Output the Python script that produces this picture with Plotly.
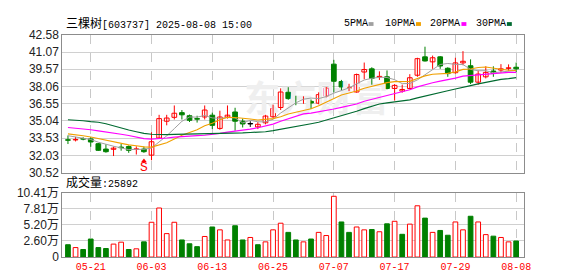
import plotly.graph_objects as go

# ---------------- data ----------------
stock_name = "三棵树"
stock_code = "603737"
timestamp = "2025-08-08 15:00"
last_volume = 25892

dates = ["05-16","05-19","05-20","05-21","05-22","05-23","05-26","05-27","05-28","05-29",
         "05-30","06-03","06-04","06-05","06-06","06-09","06-10","06-11","06-12","06-13",
         "06-16","06-17","06-18","06-19","06-20","06-23","06-24","06-25","06-26","06-27",
         "06-30","07-01","07-02","07-03","07-04","07-07","07-08","07-09","07-10","07-11",
         "07-14","07-15","07-16","07-17","07-18","07-21","07-22","07-23","07-24","07-25",
         "07-28","07-29","07-30","07-31","08-01","08-04","08-05","08-06","08-07","08-08"]

opens = [33.40,33.38,33.50,33.47,33.05,32.58,32.56,32.75,32.80,32.55,
         32.58,32.05,33.55,35.02,35.36,35.77,35.50,35.25,35.39,35.55,
         34.39,35.38,35.83,35.02,34.78,34.52,34.88,35.41,36.22,37.56,
         37.06,36.92,36.76,36.60,37.22,40.02,38.50,37.92,37.58,39.33,
         39.61,38.90,38.91,37.89,37.66,37.89,39.05,40.66,40.22,40.66,
         39.66,39.27,40.13,39.88,38.44,38.91,39.42,39.50,39.65,39.75]
highs = [33.77,33.65,33.62,33.64,33.12,33.00,32.80,33.02,32.90,32.82,
         32.80,34.05,35.58,35.58,36.40,36.00,35.60,35.50,36.40,35.77,
         35.94,36.40,36.20,35.25,35.02,34.94,35.58,36.47,37.90,38.00,
         37.25,37.20,36.92,37.55,38.02,40.40,38.64,38.30,39.19,40.16,
         39.75,39.39,39.47,38.27,38.22,39.14,40.58,41.55,40.77,40.72,
         39.75,40.58,41.16,40.44,39.47,39.83,39.83,40.02,40.00,40.16]
lows = [33.02,33.25,33.35,32.78,32.43,32.26,31.97,32.44,32.25,32.10,
        32.25,31.60,33.50,34.66,35.17,35.17,34.95,34.90,35.17,34.33,
        34.27,35.25,34.19,34.47,34.52,34.33,34.75,35.30,36.00,36.90,
        36.42,36.55,36.08,36.50,37.11,37.55,37.75,37.66,37.52,38.69,
        38.22,38.64,37.81,36.83,37.52,37.80,38.91,40.25,39.61,39.61,
        38.91,39.19,39.92,38.27,38.22,38.77,38.91,39.27,39.44,39.33]
closes = [33.35,33.42,33.45,33.20,32.47,32.35,32.66,32.70,32.47,32.60,
          32.35,33.22,35.25,35.30,35.72,35.58,35.10,35.20,36.00,34.66,
          35.39,35.55,35.02,34.78,34.78,34.75,35.47,36.14,37.58,37.00,
          36.99,37.03,36.62,37.35,37.92,38.52,38.02,37.96,39.11,39.55,
          38.77,38.95,37.89,38.16,37.80,38.83,40.50,40.30,40.58,39.86,
          39.19,40.13,40.27,38.44,39.15,39.30,39.22,39.61,39.70,39.61]

# volume in 万
volumes = [1.99,1.53,1.22,2.91,1.53,1.38,2.09,2.40,1.22,1.33,
           2.45,5.61,7.91,3.78,5.61,2.76,2.14,1.68,3.32,4.85,
           4.39,2.76,5.05,2.76,3.16,1.99,2.45,4.39,5.46,3.98,
           2.76,2.45,2.91,3.98,3.47,9.80,5.66,3.98,4.85,4.39,
           4.44,4.08,5.36,5.77,3.67,5.31,8.27,6.28,3.98,4.29,
           3.52,5.66,4.39,6.58,5.66,3.62,3.37,3.16,2.45,2.59]
# 1 = up day (red), 0 = down day (green)
vol_up = [0,1,0,0,0,0,1,1,0,1,
          0,1,1,1,1,0,0,0,1,0,
          1,1,0,0,1,0,1,1,1,0,
          0,1,0,1,1,1,0,0,1,1,
          0,1,0,1,0,1,1,0,1,0,
          0,1,1,0,1,1,0,1,1,0]

ma5 = [33.75,33.65,33.55,33.42,33.18,32.98,32.83,32.68,32.53,32.55,
       32.56,32.67,33.18,33.74,34.37,35.01,35.39,35.38,35.52,35.31,
       35.27,35.35,35.31,34.87,35.10,34.97,34.96,35.19,35.74,36.18,
       36.63,36.95,37.05,37.00,37.18,37.48,37.68,37.94,38.30,38.63,
       38.78,38.87,38.85,38.66,38.31,38.33,38.64,39.10,39.60,39.99,
       40.08,40.00,39.99,39.56,39.44,39.45,39.27,39.34,39.39,39.47]
ma10 = [33.91,33.85,33.75,33.64,33.50,33.35,33.18,33.05,32.95,32.87,
        32.77,32.75,32.93,33.14,33.46,33.79,34.03,34.28,34.63,34.84,
        35.14,35.37,35.35,35.30,35.21,35.13,35.16,35.25,35.41,35.65,
        35.81,35.96,36.12,36.37,36.69,37.07,37.32,37.50,37.66,37.91,
        38.09,38.28,38.40,38.49,38.48,38.51,38.76,38.99,39.14,39.17,
        39.21,39.33,39.56,39.59,39.73,39.77,39.64,39.57,39.48,39.46]
ma20 = [34.47,34.42,34.35,34.27,34.18,34.10,34.00,33.88,33.77,33.62,
        33.50,33.45,33.48,33.55,33.62,33.68,33.72,33.75,33.79,33.85,
        33.95,34.06,34.14,34.22,34.33,34.45,34.59,34.77,35.02,35.24,
        35.47,35.66,35.73,35.83,35.94,36.09,36.24,36.37,36.53,36.77,
        36.94,37.11,37.26,37.42,37.57,37.78,38.03,38.24,38.39,38.53,
        38.64,38.79,38.97,39.03,39.09,39.13,39.19,39.27,39.30,39.30]
ma30 = [35.15,35.12,35.06,34.98,34.93,34.80,34.60,34.45,34.25,34.10,
        33.95,33.88,33.84,33.84,33.86,33.87,33.89,33.90,33.91,33.92,
        33.93,33.96,33.98,34.00,34.03,34.05,34.10,34.19,34.30,34.45,
        34.57,34.69,34.80,34.93,35.11,35.32,35.50,35.67,35.89,36.12,
        36.34,36.53,36.62,36.71,36.78,36.89,37.07,37.24,37.39,37.56,
        37.69,37.84,38.02,38.14,38.29,38.44,38.56,38.68,38.75,38.84]

tick_dates = ["05-21","06-03","06-13","06-25","07-07","07-17","07-29","08-08"]
price_ticks = [30.52,32.03,33.53,35.04,36.55,38.06,39.57,41.07,42.58]
vol_ticks = [0,2.60,5.20,7.81,10.41]
vol_tick_text = ["0","2.60万","5.20万","7.81万","10.41万"]
signal_dates = ["05-30"]
signal_text = ["S"]
ma_names = ["5PMA","10PMA","20PMA","30PMA"]
watermark = "东方财富"

# ---------------- style ----------------
W, H = 578, 276
RED = "#ff0000"
GREEN = "#008000"
MA_COLORS = ["#a0a0a0", "#f0a000", "#ff00ff", "#006a30"]
MA_WIDTHS = [1, 1.1, 1.2, 1.2]
MONO = "Liberation Mono, Noto Sans CJK SC"
SANS = "Liberation Sans, Noto Sans CJK SC"

def py(p):
    return 1 - p / H

n = len(dates)
idx = list(range(1, n + 1))
tickvals = [dates.index(d) + 1 for d in tick_dates]
xdom = [55 / W, 522 / W]
xrange_ = [0.26, 60.99]

fig = go.Figure()

# watermark (under everything)
fig.add_trace(go.Scatter(x=[33.7], y=[36.6], mode="text", text=[watermark],
                         textfont=dict(size=36, color="#efefef", family="Noto Sans CJK SC", weight="bold"),
                         hoverinfo="skip", showlegend=False, xaxis="x", yaxis="y"))

# candles
groups = [
    ([i for i in range(n) if closes[i] > opens[i]], RED, "white"),
    ([i for i in range(n) if closes[i] < opens[i]], GREEN, GREEN),
    ([i for i in range(n) if closes[i] == opens[i]], "black", "black"),
]
for sel, col, fill in groups:
    if not sel:
        continue
    wx, wy = [], []
    for i in sel:
        wx += [idx[i], idx[i], None]
        wy += [lows[i], highs[i], None]
    fig.add_trace(go.Scatter(x=wx, y=wy, mode="lines", line=dict(color=col, width=1),
                             hoverinfo="skip", showlegend=False, xaxis="x", yaxis="y"))
    fig.add_trace(go.Bar(x=[idx[i] for i in sel],
                         base=[min(opens[i], closes[i]) for i in sel],
                         y=[max(abs(closes[i] - opens[i]), 0.04) for i in sel],
                         width=0.62, marker=dict(color=fill, line=dict(color=col, width=1)),
                         hoverinfo="skip", showlegend=False, xaxis="x", yaxis="y"))

# moving averages
for ser, col, w in zip([ma5, ma10, ma20, ma30], MA_COLORS, MA_WIDTHS):
    fig.add_trace(go.Scatter(x=idx, y=ser, mode="lines", line=dict(color=col, width=w),
                             hoverinfo="skip", showlegend=False, xaxis="x", yaxis="y"))

# signal marker
for d, t in zip(signal_dates, signal_text):
    k = dates.index(d)
    fig.add_trace(go.Scatter(x=[idx[k]], y=[lows[k] - 0.72], mode="markers",
                             marker=dict(symbol="triangle-up", size=5, color=RED),
                             hoverinfo="skip", showlegend=False, xaxis="x", yaxis="y"))
    fig.add_trace(go.Scatter(x=[idx[k]], y=[lows[k] - 1.28], mode="text", text=[t],
                             textfont=dict(size=13, color=RED, family=MONO),
                             hoverinfo="skip", showlegend=False, xaxis="x", yaxis="y"))

# volume
for flag, col, fill in [(1, RED, "white"), (0, GREEN, GREEN)]:
    sel = [i for i in range(n) if vol_up[i] == flag]
    fig.add_trace(go.Bar(x=[idx[i] for i in sel], y=[volumes[i] for i in sel], width=0.62,
                         marker=dict(color=fill, line=dict(color=col, width=1)),
                         hoverinfo="skip", showlegend=False, xaxis="x2", yaxis="y2"))

axis_common = dict(showline=True, linecolor="#8c8c8c", linewidth=1, mirror=True,
                   zeroline=False, ticks="", fixedrange=True)

fig.update_layout(
    width=W, height=H, margin=dict(l=0, r=0, t=0, b=0),
    paper_bgcolor="white", plot_bgcolor="white", barmode="overlay", showlegend=False,
    xaxis=dict(domain=xdom, range=xrange_, tickvals=tickvals, ticktext=tick_dates,
               showticklabels=False, showgrid=True, gridcolor="#c8c8c8", griddash="dash",
               anchor="y", **axis_common),
    yaxis=dict(domain=[py(166), py(21)], range=[price_ticks[0], price_ticks[-1]],
               tickvals=price_ticks, ticktext=[f"{v:.2f}" for v in price_ticks],
               showgrid=True, gridcolor="#d0d0d0",
               tickfont=dict(family=SANS, size=12, color="#222"), anchor="x", **axis_common),
    xaxis2=dict(domain=xdom, range=xrange_, tickvals=tickvals, ticktext=tick_dates,
                showgrid=True, gridcolor="#c8c8c8", griddash="dash",
                tickfont=dict(family=MONO, size=10, color=RED), anchor="y2", **axis_common),
    yaxis2=dict(domain=[py(255), py(187)], range=[vol_ticks[0], vol_ticks[-1]],
                tickvals=vol_ticks, ticktext=vol_tick_text, showgrid=True, gridcolor="#d0d0d0",
                tickfont=dict(family=SANS, size=12, color="#222"), anchor="x2", **axis_common),
)

# title
fig.add_annotation(x=57 / W, y=py(9), xref="paper", yref="paper", xanchor="left", yanchor="middle",
                   showarrow=False,
                   text=f"<span style='font-size:12px'>{stock_name}</span>[{stock_code}] {timestamp}",
                   font=dict(family=MONO, size=10, color="black"))
# volume label
fig.add_annotation(x=57 / W, y=py(177.5), xref="paper", yref="paper", xanchor="left", yanchor="middle",
                   showarrow=False,
                   text=f"<span style='font-size:12px'>成交量</span>:{last_volume}",
                   font=dict(family=MONO, size=10, color="black"))
# legend
leg_x = [338, 380, 425.5, 471.5]
sq_x = [365, 413, 459, 505]
for name, col, lx, sx in zip(ma_names, MA_COLORS, leg_x, sq_x):
    fig.add_annotation(x=lx / W, y=py(9), xref="paper", yref="paper", xanchor="left", yanchor="middle",
                       showarrow=False, text=name, font=dict(family=MONO, size=10, color="black"))
    fig.add_shape(type="rect", xref="paper", yref="paper", x0=sx / W, x1=(sx + 5) / W,
                  y0=py(11.5), y1=py(7.5), fillcolor=col, line=dict(width=0))

fig.write_html("out.html")
